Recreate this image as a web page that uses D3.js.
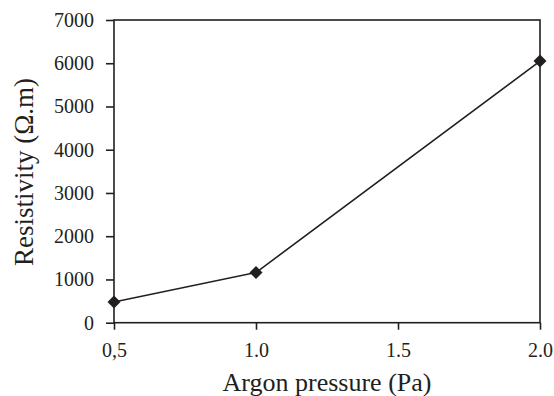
<!DOCTYPE html>
<html>
<head>
<meta charset="utf-8">
<script src="https://cdn.jsdelivr.net/npm/d3@7"></script>
<style>
body{margin:0;background:#fff;}
text{font-family:"Liberation Serif","Times New Roman",serif;fill:#231f20;}
</style>
</head>
<body>
<script>
//data
var pressure = [0.5, 1.0, 2.0];
var resistivity = [480, 1160, 6050];
var xTicks = [0.5, 1.0, 1.5, 2.0];
var xTickLabels = ["0,5", "1.0", "1.5", "2.0"];
var yTicks = [0, 1000, 2000, 3000, 4000, 5000, 6000, 7000];

(function(){
	var w = 554, h = 396;
	var ink = "#231f20";

	var svg = d3.select("body").append("svg")
		.attr("width", w)
		.attr("height", h);

	//plot frame (names avoid window.top)
	var mLeft = 114, mRight = 540, mTop = 20, mBottom = 322.7;

	var x = d3.scaleLinear().domain([0.5, 2.0]).range([mLeft, mRight]);
	var y = d3.scaleLinear().domain([0, 7000]).range([mBottom, mTop]);

	//frame box
	svg.append("rect")
		.attr("x", mLeft).attr("y", mTop)
		.attr("width", mRight - mLeft).attr("height", mBottom - mTop)
		.style("fill", "none").style("stroke", ink).style("stroke-width", 1.6);

	//y axis
	var yAxis = svg.append("g")
		.attr("transform", "translate(" + mLeft + ",0)")
		.call(d3.axisLeft(y).tickValues(yTicks).tickSize(8).tickPadding(12).tickFormat(d3.format("d")));
	yAxis.select(".domain").remove();
	yAxis.selectAll("line").style("stroke", ink).style("stroke-width", 1.6);
	yAxis.selectAll("text").style("font-size", "20px").style("font-family", "Liberation Serif").style("fill", ink);

	//x axis
	var xAxis = svg.append("g")
		.attr("transform", "translate(0," + mBottom + ")")
		.call(d3.axisBottom(x).tickValues(xTicks).tickSize(7).tickPadding(13)
			.tickFormat(function(d, i){ return xTickLabels[i]; }));
	xAxis.select(".domain").remove();
	xAxis.selectAll("line").style("stroke", ink).style("stroke-width", 1.6);
	xAxis.selectAll("text").style("font-size", "20px").style("font-family", "Liberation Serif").style("fill", ink);

	//data line
	var pts = pressure.map(function(p, i){ return [p, resistivity[i]]; });
	svg.append("path")
		.datum(pts)
		.attr("d", d3.line().x(function(d){ return x(d[0]); }).y(function(d){ return y(d[1]); }))
		.style("fill", "none").style("stroke", ink).style("stroke-width", 1.6);

	//diamond markers
	svg.selectAll(".marker")
		.data(pts)
		.enter()
		.append("path")
		.attr("class", "marker")
		.attr("transform", function(d){ return "translate(" + x(d[0]) + "," + y(d[1]) + ")"; })
		.attr("d", "M0,-6.5L6.5,0L0,6.5L-6.5,0Z")
		.style("fill", ink);

	//axis titles
	svg.append("text")
		.attr("text-anchor", "middle")
		.attr("x", (mLeft + mRight) / 2)
		.attr("y", 391)
		.style("font-size", "26px")
		.text("Argon pressure (Pa)");

	svg.append("text")
		.attr("text-anchor", "middle")
		.attr("transform", "translate(32.5,172) rotate(-90)")
		.style("font-size", "27px")
		.text("Resistivity (Ω.m)");
})();
</script>
</body>
</html>
